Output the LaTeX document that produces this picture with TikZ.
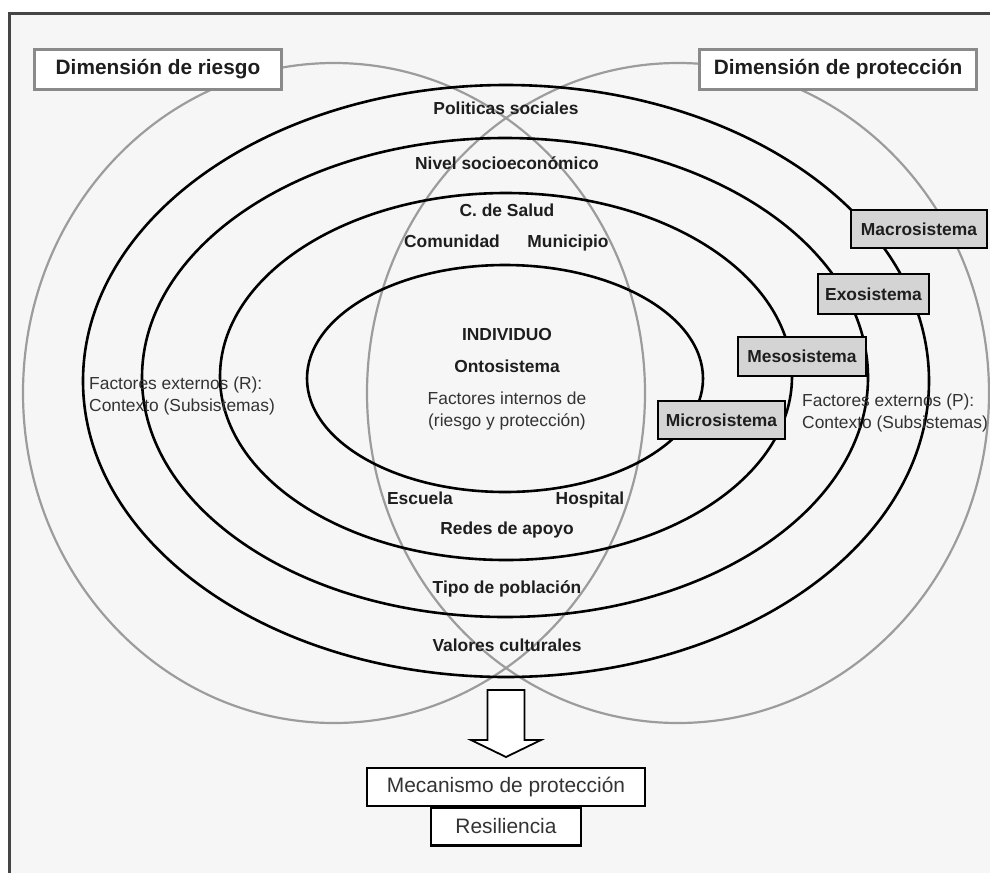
\documentclass[tikz,border=0pt]{standalone}
\usepackage{fontspec}
\setmainfont{Liberation Sans}
\definecolor{bgc}{HTML}{F6F6F6}
\definecolor{framec}{HTML}{454545}
\definecolor{circc}{HTML}{9C9C9C}
\definecolor{dimboxc}{HTML}{8A8A8A}
\definecolor{sysfill}{HTML}{D4D4D4}
\definecolor{txtc}{HTML}{333333}
\definecolor{labc}{HTML}{1E1E1E}
\begin{document}
\begin{tikzpicture}[x=1pt,y=-1pt,
  ring/.style={draw=black,line width=2.6pt},
  dimcirc/.style={draw=circc,line width=2.2pt},
  dimbox/.style={draw=dimboxc,line width=2.5pt,fill=white,inner sep=0pt,minimum height=40pt,text=labc,font=\bfseries\fontsize{20.8}{24}\selectfont},
  sysbox/.style={draw=black,line width=2.6pt,fill=sysfill,inner sep=0pt,minimum height=38pt,text=labc,font=\bfseries\fontsize{17.4}{20}\selectfont},
  lab/.style={inner sep=0pt,text height=12.6pt,text depth=3.7pt,text=labc,font=\bfseries\fontsize{17.4}{20}\selectfont},
  reg/.style={inner sep=0pt,text=txtc,font=\fontsize{17.4}{22}\selectfont},
  mechbox/.style={draw=black,line width=2.8pt,fill=white,inner sep=0pt,text=txtc,font=\fontsize{20.9}{24}\selectfont}]
\useasboundingbox (0,0) rectangle (990,873);
\fill[white] (0,0) rectangle (990,873);
\fill[bgc] (9,13) rectangle (990,873);
\draw[framec,line width=3pt] (9,873) -- (9,13) -- (990,13);
% dimension circles
\draw[dimcirc] (334,393) ellipse [x radius=311pt, y radius=330pt];
\draw[dimcirc] (678,393) ellipse [x radius=311pt, y radius=330pt];
% ecological rings
\draw[ring] (506,381) ellipse [x radius=423pt, y radius=296pt];
\draw[ring] (505,377.5) ellipse [x radius=363pt, y radius=239.5pt];
\draw[ring] (506,376.5) ellipse [x radius=286pt, y radius=183.5pt];
\draw[ring] (505,378.5) ellipse [x radius=198pt, y radius=113.5pt];
% dimension boxes
\node[dimbox,minimum width=247pt] (riesgo) at (158,69.5) {Dimensión de riesgo};
\node[dimbox,minimum width=277pt] (proteccion) at (838,69.5) {Dimensión de protección};
% system boxes
\node[sysbox,minimum width=136pt] (macro) at (919,229) {Macrosistema};
\node[sysbox,minimum width=111pt,minimum height=40pt] (exo) at (873.5,294) {Exosistema};
\node[sysbox,minimum width=128pt,minimum height=39pt] (meso) at (802,356.5) {Mesosistema};
\node[sysbox,minimum width=127pt] (micro) at (721.5,420) {Microsistema};
% labels
\node[lab] (pol) at (506,110) {Politicas sociales};
\node[lab] (niv) at (507,165) {Nivel socioeconómico};
\node[lab] (salud) at (507,212) {C. de Salud};
\node[lab] (com) at (452,243) {Comunidad};
\node[lab] (mun) at (568,243) {Municipio};
\node[lab] (ind) at (507,336) {INDIVIDUO};
\node[lab] (onto) at (507,368) {Ontosistema};
\node[reg,align=center] (fint) at (507,411) {Factores internos de\\(riesgo y protección)};
\node[lab] (esc) at (420,500) {Escuela};
\node[lab] (hosp) at (590,500) {Hospital};
\node[lab] (redes) at (507,530) {Redes de apoyo};
\node[lab] (tipo) at (507,589) {Tipo de población};
\node[lab] (val) at (507,647) {Valores culturales};
\node[reg,align=left,anchor=west] (fextR) at (89,396) {Factores externos (R):\\Contexto (Subsistemas)};
\node[reg,align=left,anchor=west] (fextP) at (802,412.5) {Factores externos (P):\\Contexto (Subsistemas)};
% block arrow
\draw[black,line width=1.8pt,fill=white,line join=miter]
  (487.5,690) -- (524.5,690) -- (524.5,740) -- (541,740) -- (506,757) -- (471,740) -- (487.5,740) -- cycle;
% bottom boxes
\node[mechbox,minimum width=150pt,minimum height=38pt] (resil) at (506,826.5) {Resiliencia};
\node[mechbox,minimum width=278pt,minimum height=38pt] (mecan) at (506,787) {Mecanismo de protección};
\end{tikzpicture}
\end{document}
